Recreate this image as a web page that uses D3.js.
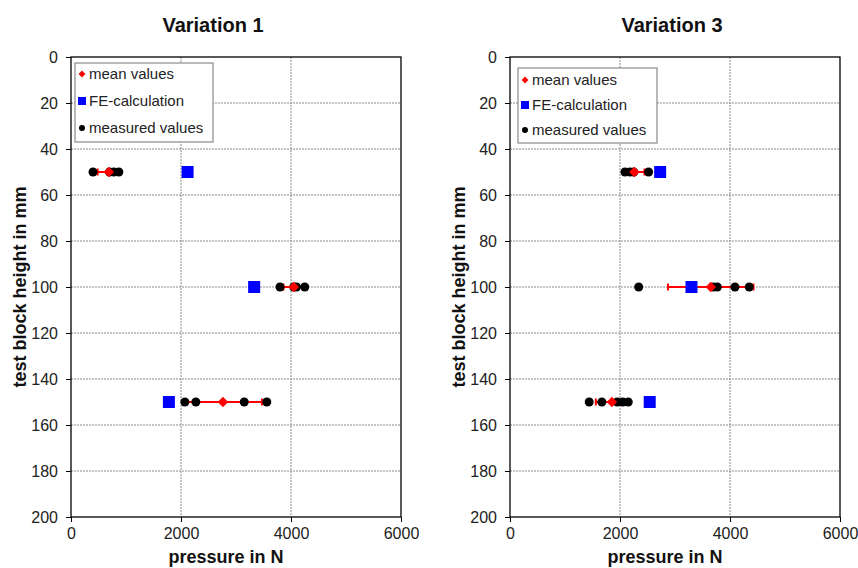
<!DOCTYPE html>
<html>
<head>
<meta charset="utf-8">
<script src="https://cdn.jsdelivr.net/npm/d3@7/dist/d3.min.js"></script>
<style>
  html, body { margin: 0; padding: 0; background: #fff; }
  svg { display: block; font-family: "Liberation Sans", Arial, sans-serif; }
  .axis text { font-size: 16px; fill: #222; }
  .axis path, .axis line { stroke: #000; }
</style>
</head>
<body>
<svg id="chart" width="858" height="568"></svg>
<script>
// ── Data ───────────────────────────────────────────────────────────────────
const heights   = [50, 100, 150];               // test block height in mm
const xTicks    = [0, 2000, 4000, 6000];
const yTicks    = [0, 20, 40, 60, 80, 100, 120, 140, 160, 180, 200];
const legendLabels = ['mean values', 'FE-calculation', 'measured values'];

const v1Measured = [
  [400, 700, 780, 870],
  [3800, 4050, 4100, 4250],
  [2070, 2270, 3150, 3560],
];
const v1FE = [2120, 3330, 1780];

const v3Measured = [
  [2090, 2180, 2250, 2520],
  [2340, 3700, 3770, 4090, 4350],
  [1440, 1670, 1950, 2050, 2150],
];
const v3FE = [2730, 3300, 2540];

const panels = [
  { title: 'Variation 1', measured: v1Measured, fe: v1FE, left: 71,
    titleX: 213, legend: { x: 75, y: 63, w: 138, h: 79, row0: 11, step: 27 } },
  { title: 'Variation 3', measured: v3Measured, fe: v3FE, left: 510,
    titleX: 672, legend: { x: 518, y: 68, w: 139, h: 75, row0: 12, step: 25 } },
];

const plotTop = 57, W = 330, H = 460;
const svg = d3.select('#chart');

panels.forEach(p => {
  const x = d3.scaleLinear().domain([0, 6000]).range([p.left, p.left + W]);
  const y = d3.scaleLinear().domain([0, 200]).range([plotTop, plotTop + H]);
  const g = svg.append('g');

  // gridlines
  g.append('g').selectAll('line').data(yTicks.slice(1, -1)).join('line')
    .attr('x1', x(0)).attr('x2', x(6000))
    .attr('y1', d => y(d)).attr('y2', d => y(d))
    .attr('stroke', '#8a8a8a').attr('stroke-dasharray', '2,1');
  g.append('g').selectAll('line').data(xTicks.slice(1, -1)).join('line')
    .attr('y1', y(0)).attr('y2', y(200))
    .attr('x1', d => x(d)).attr('x2', d => x(d))
    .attr('stroke', '#8a8a8a').attr('stroke-dasharray', '2,1');

  // frame
  g.append('rect')
    .attr('x', x(0)).attr('y', y(0)).attr('width', W).attr('height', H)
    .attr('fill', 'none').attr('stroke', '#000').attr('stroke-width', 1.3);

  // axes
  g.append('g').attr('class', 'axis')
    .attr('transform', `translate(${x(0)},0)`)
    .call(d3.axisLeft(y).tickValues(yTicks).tickSize(5).tickPadding(8))
    .select('.domain').remove();
  g.append('g').attr('class', 'axis')
    .attr('transform', `translate(0,${y(200)})`)
    .call(d3.axisBottom(x).tickValues(xTicks).tickSize(5).tickPadding(6)
      .tickFormat(d3.format('d')))
    .select('.domain').remove();

  // titles
  g.append('text').attr('x', p.titleX).attr('y', 32)
    .attr('text-anchor', 'middle').style('font-size', '20px').style('font-weight', 'bold')
    .attr('fill', '#111').text(p.title);
  g.append('text').attr('x', x(3000) - 10).attr('y', 563)
    .attr('text-anchor', 'middle').style('font-size', '18px').style('font-weight', 'bold')
    .attr('fill', '#111').text('pressure in N');
  g.append('text')
    .attr('transform', `translate(${p.left - 45},${y(100)}) rotate(-90)`)
    .attr('text-anchor', 'middle').style('font-size', '18px').style('font-weight', 'bold')
    .attr('fill', '#111').text('test block height in mm');

  // error bars (mean ± std dev)
  heights.forEach((h, i) => {
    const vals = p.measured[i];
    const m = d3.mean(vals), sd = d3.deviation(vals);
    const cy = y(h);
    g.append('line').attr('x1', x(m - sd)).attr('x2', x(m + sd))
      .attr('y1', cy).attr('y2', cy).attr('stroke', '#f00').attr('stroke-width', 2);
    [m - sd, m + sd].forEach(v =>
      g.append('line').attr('x1', x(v)).attr('x2', x(v))
        .attr('y1', cy - 3.5).attr('y2', cy + 3.5).attr('stroke', '#f00').attr('stroke-width', 2));
  });

  // FE-calculation
  g.selectAll('.fe').data(heights).join('rect').attr('class', 'fe')
    .attr('x', (d, i) => x(p.fe[i]) - 6).attr('y', d => y(d) - 6)
    .attr('width', 12).attr('height', 12).attr('fill', '#00f');

  // measured values
  heights.forEach((h, i) => {
    g.selectAll(null).data(p.measured[i]).join('circle')
      .attr('cx', d => x(d)).attr('cy', y(h)).attr('r', 4.5).attr('fill', '#000');
  });

  // mean values
  g.selectAll('.mean').data(heights).join('path').attr('class', 'mean')
    .attr('d', d3.symbol(d3.symbolDiamond2, 70))
    .attr('transform', (d, i) => `translate(${x(d3.mean(p.measured[i]))},${y(d)})`)
    .attr('fill', '#f00');

  // legend
  const L = p.legend;
  const lg = g.append('g');
  lg.append('rect').attr('x', L.x).attr('y', L.y).attr('width', L.w).attr('height', L.h)
    .attr('fill', '#fff').attr('stroke', '#8a8a8a').attr('stroke-width', 1.2);
  legendLabels.forEach((lab, k) => {
    const cy = L.y + L.row0 + k * L.step;
    const mx = L.x + 7;
    if (k === 0) {
      lg.append('path').attr('d', d3.symbol(d3.symbolDiamond2, 30))
        .attr('transform', `translate(${mx},${cy})`).attr('fill', '#f00');
    } else if (k === 1) {
      lg.append('rect').attr('x', mx - 4).attr('y', cy - 4)
        .attr('width', 8).attr('height', 8).attr('fill', '#00f');
    } else {
      lg.append('circle').attr('cx', mx).attr('cy', cy).attr('r', 3).attr('fill', '#000');
    }
    lg.append('text').attr('x', mx + 7).attr('y', cy).attr('dy', '0.35em')
      .style('font-size', '15px').attr('fill', '#222').text(lab);
  });
});
</script>
</body>
</html>
